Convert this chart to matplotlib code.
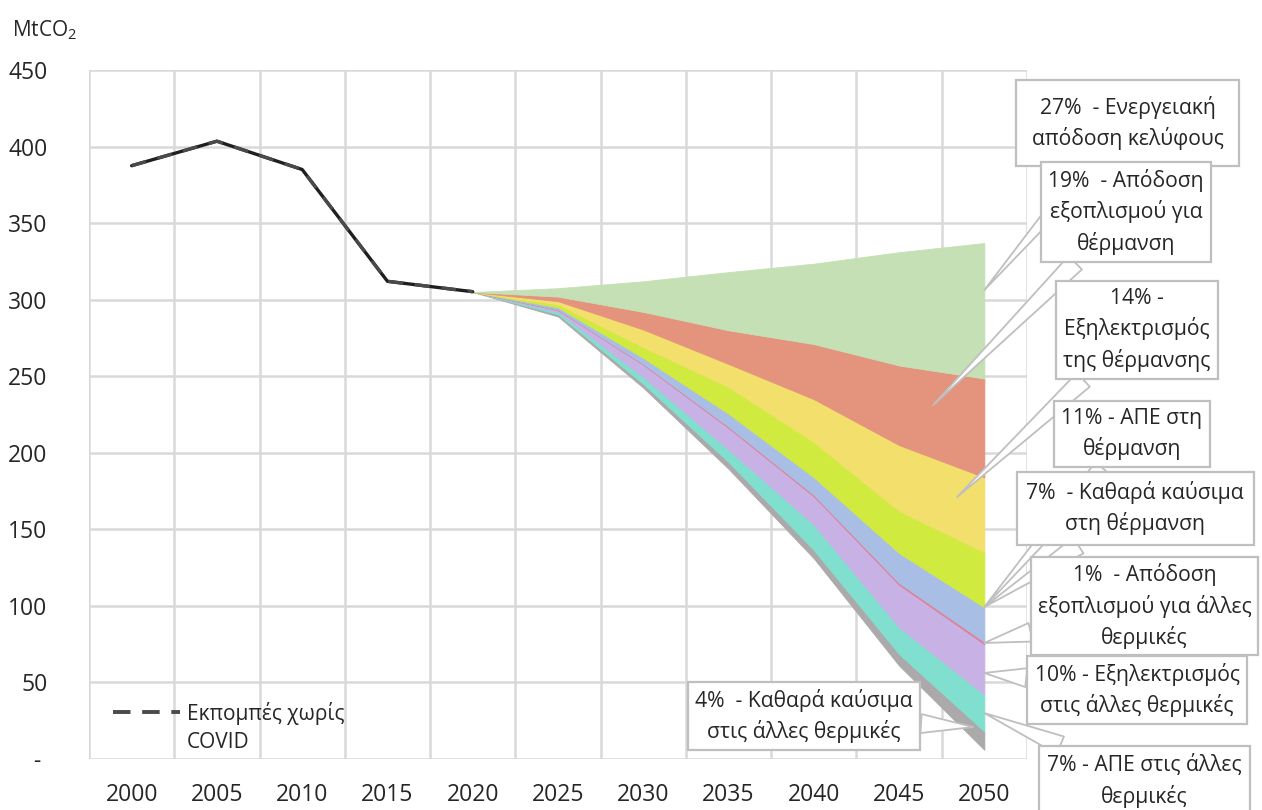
import numpy as np
import matplotlib
matplotlib.use("Agg")
from matplotlib import pyplot as plt

plt.rcParams['font.family'] = ['Open Sans', 'DejaVu Sans']
plt.rcParams['mathtext.default'] = 'regular'

# x axis categories (5-year steps)
years = ["2000", "2005", "2010", "2015", "2020", "2025", "2030", "2035", "2040", "2045", "2050"]

# historic emissions 2000-2020, MtCO2
hist_values = [387.5, 403.5, 385, 312, 305.2]

# scenario 2020-2050: remaining emissions + reduction wedges (stacked from bottom)
final_emis = [305, 289, 242.5, 189.5, 131, 61, 6]
grey_w = [0, 1.5, 2.5, 4.5, 5.5, 7.5, 12]       # 4% clean fuels other thermal
teal_w = [0, 1.5, 4.5, 8, 16.5, 17.5, 24]       # 7% RES other thermal
purple_w = [0, 1.2, 8, 14.2, 18.5, 27.8, 33]    # 10% electrification other thermal
pink_w = [0, 0.3, 0.5, 0.8, 1, 1.2, 1.5]        # 1% equipment other thermal
blue_w = [0, 1.5, 4, 8.5, 11.5, 19.5, 22.5]     # 7% clean fuels heating
lime_w = [0, 2, 7, 17.5, 23, 27.5, 36]          # 11% RES heating
yellow_w = [0, 2, 11.5, 15, 28, 43, 49]         # 14% electrification heating
red_w = [0, 3, 11.5, 22, 36, 52, 64.5]          # 19% equipment heating
green_w = [0, 5.5, 20, 38, 52.5, 74, 88.5]      # 27% envelope efficiency

layer_colors = ['none', '#aba9a9', '#80dfce', '#c8b1e4', '#e07f94', '#a9bee4',
                '#d1ea40', '#f3df6b', '#e4937d', '#c5e0b4']

labels = ["27%  - Ενεργειακή\nαπόδοση κελύφους",
          "19%  - Απόδοση\nεξοπλισμού για\nθέρμανση",
          "14% -\nΕξηλεκτρισμός\nτης θέρμανσης",
          "11% - ΑΠΕ στη\nθέρμανση",
          "7%  - Καθαρά καύσιμα\nστη θέρμανση",
          "1%  - Απόδοση\nεξοπλισμού για άλλες\nθερμικές",
          "10% - Εξηλεκτρισμός\nστις άλλες θερμικές",
          "7% - ΑΠΕ στις άλλες\nθερμικές",
          "4%  - Καθαρά καύσιμα\nστις άλλες θερμικές"]
# callout box centres and pointer tips (data units)
label_pos = [(11.68, 415.4), (11.66, 357.3), (11.79, 280.2), (11.73, 212.3), (11.77, 163.9),
             (11.88, 99.9), (11.79, 45.1), (11.88, -14.4), (7.885, 28.1)]
tip_pos = [(10, 306.3), (9.40, 231.2), (9.68, 171.1), (10, 99.3), (10, 99.3),
           (10, 75.8), (10, 56.2), (10, 30.0), (9.87, 20.9)]
box_pad = [0.75, 0.35, 0.35, 0.35, 0.45, 0.3, 0.35, 0.4, 0.35]

fig = plt.figure(figsize=(12.62, 8.10), dpi=100)
ax = fig.add_axes([89/1262, 1-759/810, (1027-89)/1262, (759-70)/810])

x_all = np.arange(len(years))
x_scen = x_all[4:]

polys = ax.stackplot(x_scen, final_emis, grey_w, teal_w, purple_w, pink_w, blue_w,
                     lime_w, yellow_w, red_w, green_w, colors=layer_colors, zorder=2)
for p, c in zip(polys, layer_colors):
    if c == 'none':
        p.set_linewidth(0)
    else:
        p.set_edgecolor(c)
        p.set_linewidth(0.6)

ax.plot(x_all[:5], hist_values, color='#1f1f1f', lw=2.4, zorder=4, solid_capstyle='round')
ax.plot(x_all[:5], hist_values, color='#4a4a4a', lw=2.4, ls=(0, (4.5, 3.5)), zorder=5)

ax.set_xlim(-0.5, 10.5)
ax.set_ylim(0, 450)
ax.set_xticks(x_all)
ax.set_xticklabels(years)
ax.set_xticks(np.arange(-0.5, 11, 1), minor=True)
yt = np.arange(0, 451, 50)
ax.set_yticks(yt)
ax.set_yticklabels(['- '] + [str(v) for v in yt[1:]])
ax.tick_params(axis='both', which='both', length=0, labelsize=16.5, colors='#262626')
ax.tick_params(axis='x', pad=17)
ax.tick_params(axis='y', pad=30)
ax.grid(True, axis='y', color='#d9d9d9', lw=1.8, zorder=0)
ax.grid(True, axis='x', which='minor', color='#d9d9d9', lw=1.8, zorder=0)
ax.set_axisbelow(True)
for s in ax.spines.values():
    s.set_visible(False)

fig.text(12/1262, 1-30/810, "MtCO$_2$", fontsize=15, color='#262626', va='center', ha='left')

# legend for dashed series
ax.plot([0.026, 0.097], [0.068, 0.068], transform=ax.transAxes, color='#4a4a4a',
        lw=2.8, ls=(0, (4.5, 3.0)), clip_on=False)
ax.text(0.104, 0.083, "Εκπομπές χωρίς\nCOVID", transform=ax.transAxes, fontsize=15,
        color='#262626', va='top', ha='left', linespacing=1.45)

for txt, (lx, ly), (tx, ty), pd in zip(labels, label_pos, tip_pos, box_pad):
    ax.annotate(txt, xy=(tx, ty), xytext=(lx, ly), xycoords='data', textcoords='data',
                ha='center', va='center', fontsize=15.2, color='#262626', linespacing=1.45,
                annotation_clip=False,
                bbox=dict(boxstyle='square,pad=%.2f' % pd, fc='white', ec='#bfbfbf', lw=1.6),
                arrowprops=dict(arrowstyle='wedge,tail_width=0.9,shrink_factor=0.5',
                                fc='white', ec='#bfbfbf', lw=1.3, shrinkA=0, shrinkB=0))

fig.savefig("out.png", dpi=100)
